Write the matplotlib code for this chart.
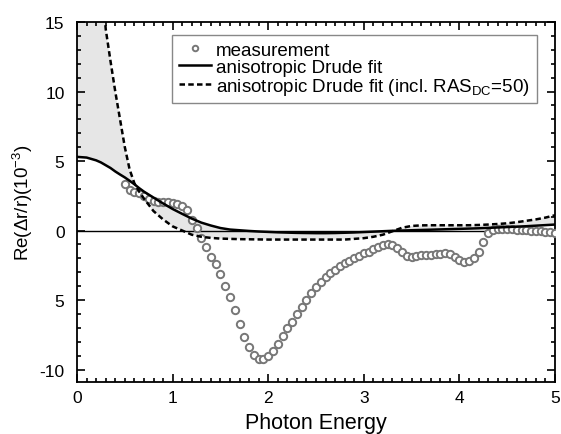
import numpy as np
import matplotlib.pyplot as plt
from matplotlib.ticker import MultipleLocator

plt.rcParams['font.family'] = ['Liberation Sans', 'DejaVu Sans']
plt.rcParams['mathtext.fontset'] = 'custom'
plt.rcParams['mathtext.rm'] = 'Liberation Sans'
plt.rcParams['mathtext.it'] = 'Liberation Sans'

meas_x = [0.50, 0.55, 0.60, 0.65, 0.70, 0.75, 0.80, 0.85, 0.90, 0.95,
          1.00, 1.05, 1.10, 1.15, 1.20, 1.25, 1.30, 1.35, 1.40, 1.45,
          1.50, 1.55, 1.60, 1.65, 1.70, 1.75, 1.80, 1.85, 1.90, 1.95,
          2.00, 2.05, 2.10, 2.15, 2.20, 2.25, 2.30, 2.35, 2.40, 2.45,
          2.50, 2.55, 2.60, 2.65, 2.70, 2.75, 2.80, 2.85, 2.90, 2.95,
          3.00, 3.05, 3.10, 3.15, 3.20, 3.25, 3.30, 3.35, 3.40, 3.45,
          3.50, 3.55, 3.60, 3.65, 3.70, 3.75, 3.80, 3.85, 3.90, 3.95,
          4.00, 4.05, 4.10, 4.15, 4.20, 4.25, 4.30, 4.35, 4.40, 4.45,
          4.50, 4.55, 4.60, 4.65, 4.70, 4.75, 4.80, 4.85, 4.90, 4.95, 5.00]
meas_y = [3.35, 2.90, 2.78, 2.68, 2.45, 2.25, 2.10, 2.08, 2.08, 2.06,
          2.00, 1.92, 1.75, 1.45, 0.75, 0.17, -0.57, -1.15, -1.94, -2.42,
          -3.10, -4.00, -4.80, -5.70, -6.70, -7.65, -8.40, -8.95, -9.22, -9.25,
          -9.05, -8.70, -8.15, -7.60, -7.03, -6.55, -6.00, -5.48, -4.98, -4.50,
          -4.09, -3.73, -3.37, -3.06, -2.83, -2.58, -2.37, -2.18, -1.99, -1.82,
          -1.65, -1.51, -1.36, -1.20, -1.07, -1.00, -1.05, -1.28, -1.55, -1.80,
          -1.87, -1.82, -1.77, -1.75, -1.73, -1.70, -1.66, -1.65, -1.70, -1.87,
          -2.10, -2.25, -2.22, -2.00, -1.53, -0.85, -0.20, 0.05, 0.10, 0.10,
          0.08, 0.08, 0.05, 0.05, 0.02, 0.00, -0.02, -0.05, -0.10, -0.10, -0.15]

# fit curves on a common energy grid
fit_x = [0.0, 0.1, 0.2, 0.25, 0.3, 0.35, 0.4, 0.45, 0.5, 0.55, 0.6, 0.65,
         0.7, 0.8, 0.9, 1.0, 1.1, 1.2, 1.3, 1.4, 1.5, 1.6, 1.7, 1.8, 1.9,
         2.0, 2.1, 2.2, 2.3, 2.4, 2.5, 2.6, 2.7, 2.8, 2.9, 3.0, 3.1, 3.2,
         3.3, 3.4, 3.5, 3.6, 3.7, 3.8, 3.9, 4.0, 4.1, 4.2, 4.3, 4.4, 4.5,
         4.6, 4.7, 4.8, 4.9, 5.0]
drude = [5.30, 5.25, 5.05, 4.90, 4.70, 4.50, 4.25, 4.03, 3.82, 3.58, 3.33, 3.05,
         2.80, 2.37, 1.95, 1.55, 1.20, 0.86, 0.57, 0.36, 0.18, 0.07, 0.02, -0.03, -0.07,
         -0.10, -0.13, -0.15, -0.17, -0.18, -0.19, -0.19, -0.18, -0.16, -0.14, -0.11, -0.08, -0.05,
         -0.02, 0.00, 0.02, 0.04, 0.06, 0.08, 0.10, 0.12, 0.14, 0.16, 0.19, 0.22, 0.25,
         0.28, 0.31, 0.35, 0.39, 0.43]
drude_dc = [80.0, 50.0, 25.0, 19.0, 14.5, 12.2, 10.0, 8.0, 6.0, 4.4, 3.4, 2.8,
            2.3, 1.4, 0.8, 0.3, 0.0, -0.3, -0.45, -0.53, -0.58, -0.60, -0.62, -0.63, -0.64,
            -0.65, -0.65, -0.65, -0.65, -0.65, -0.65, -0.65, -0.65, -0.65, -0.60, -0.55, -0.45, -0.30,
            -0.05, 0.20, 0.33, 0.37, 0.38, 0.38, 0.38, 0.38, 0.38, 0.40, 0.43, 0.47, 0.52,
            0.60, 0.70, 0.80, 0.93, 1.10]

y_ticks = [-10, -5, 0, 5, 10, 15]
y_ticklabels = ['-10', '5', '0', '5', '10', '15']

fig = plt.figure(figsize=(5.61, 4.35), dpi=100)
ax = fig.add_axes([0.1373, 0.1195, 0.852, 0.8275])

ax.fill_between(fit_x, drude, drude_dc, color='#e6e6e6', linewidth=0, zorder=1)
ax.axhline(0, color='black', linewidth=1.0, zorder=2)
ax.plot(meas_x, meas_y, 'o', markersize=5.3, markerfacecolor='white',
        markeredgecolor='#777777', markeredgewidth=1.4, label='measurement', zorder=3)
ax.plot(fit_x, drude, '-', color='black', linewidth=1.8, label='anisotropic Drude fit', zorder=4)
ax.plot(fit_x, drude_dc, '--', color='black', linewidth=1.8, dashes=(2.2, 1.3),
        label=r'anisotropic Drude fit (incl. RAS$_{\mathrm{DC}}$=50)', zorder=4)

ax.set_xlim(0, 5)
ax.set_ylim(-10.9, 15)
ax.xaxis.set_major_locator(MultipleLocator(1))
ax.xaxis.set_minor_locator(MultipleLocator(0.1))
ax.set_yticks(y_ticks)
ax.set_yticklabels(y_ticklabels)
ax.yaxis.set_minor_locator(MultipleLocator(1))
ax.tick_params(which='both', direction='in', top=True, right=True, width=1.2)
ax.tick_params(which='major', length=6, labelsize=12.5)
ax.tick_params(which='minor', length=3)
ax.tick_params(axis='y', pad=9)
ax.tick_params(axis='x', pad=6)
for s in ax.spines.values():
    s.set_linewidth(1.3)

ax.set_xlabel('Photon Energy', fontsize=15.5, labelpad=5)
ax.set_ylabel(r'Re($\Delta$r/r)(10$^{-3}$)', fontsize=13.5, labelpad=3)

leg = ax.legend(loc='upper left', bbox_to_anchor=(0.199, 0.964), fontsize=13.5,
                handlelength=1.7, handletextpad=0.3, labelspacing=0.0,
                borderpad=0.35, borderaxespad=0, markerscale=0.75,
                fancybox=False, framealpha=1)
leg.get_frame().set_edgecolor('#888888')
leg.get_frame().set_linewidth(1.0)

fig.savefig('out.png', dpi=100)
